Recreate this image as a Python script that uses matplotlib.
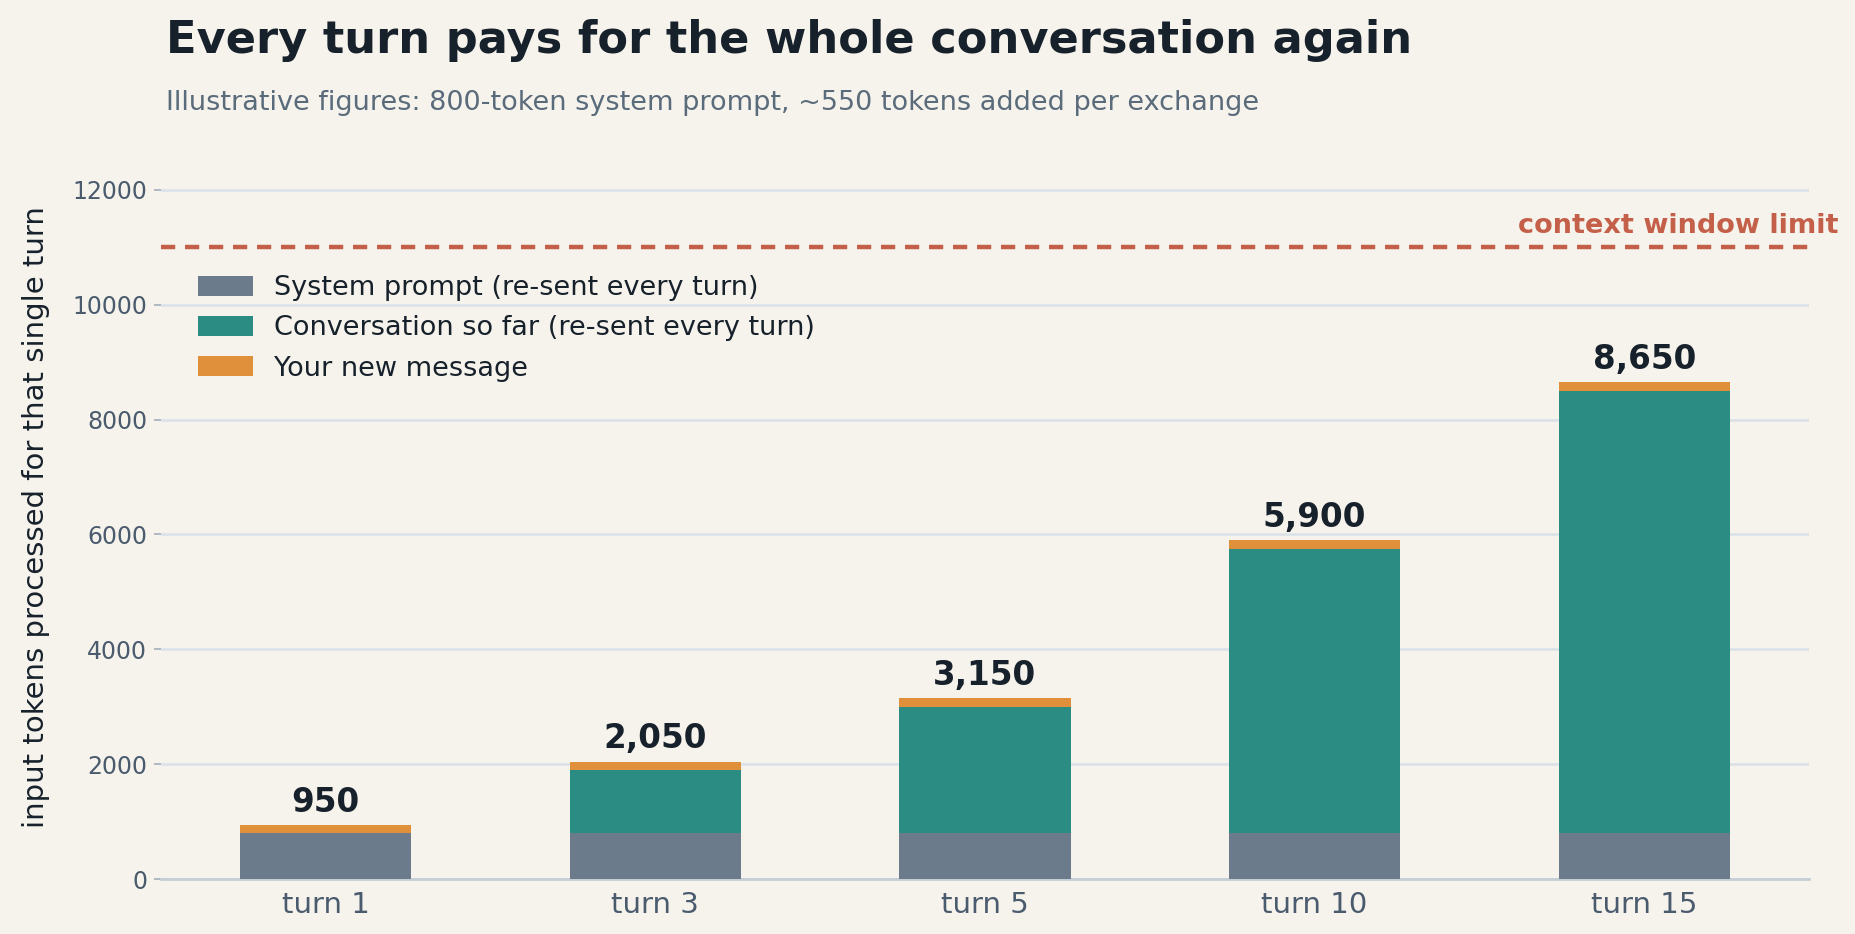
import matplotlib
matplotlib.use("Agg")
import matplotlib.pyplot as plt
import numpy as np

turns = ["turn 1", "turn 3", "turn 5", "turn 10", "turn 15"]
system_prompt = [800, 800, 800, 800, 800]
conversation = [0, 1100, 2200, 4950, 7700]
new_message = [150, 150, 150, 150, 150]
context_limit = 11000
yticks = [0, 2000, 4000, 6000, 8000, 10000, 12000]

BG = "#F6F3EC"
C_SYS = "#6B7B8C"
C_CONV = "#2A8C82"
C_NEW = "#E0903A"
C_LIMIT = "#C4604A"
C_DARK = "#17212B"
C_SUB = "#5A6B7B"
C_TICK = "#4A5B6E"
C_GRID = "#DCE3E8"

plt.rcParams["font.family"] = ["DejaVu Sans"]

fig = plt.figure(figsize=(18.56, 9.34), dpi=100, facecolor=BG)
ax = fig.add_axes([0.0867, 0.0584, 0.888, 0.7756], facecolor=BG)

x = np.arange(len(turns))
w = 0.52
sys_arr = np.array(system_prompt)
conv_arr = np.array(conversation)
new_arr = np.array(new_message)

ax.bar(x, sys_arr, w, color=C_SYS, label="System prompt (re-sent every turn)", zorder=3)
ax.bar(x, conv_arr, w, bottom=sys_arr, color=C_CONV, label="Conversation so far (re-sent every turn)", zorder=3)
ax.bar(x, new_arr, w, bottom=sys_arr + conv_arr, color=C_NEW, label="Your new message", zorder=3)

totals = sys_arr + conv_arr + new_arr
for xi, t in zip(x, totals):
    ax.text(xi, t + 110, f"{t:,}", ha="center", va="bottom", fontsize=23.5,
            fontweight="bold", color=C_DARK, zorder=4)

ax.axhline(context_limit, color=C_LIMIT, lw=3.2, ls=(0, (3.2, 2.2)), zorder=2)
ax.text(1.018, context_limit + 140, "context window limit", transform=ax.get_yaxis_transform(),
        ha="right", va="bottom", fontsize=19.5, fontweight="bold", color=C_LIMIT)

ax.set_xlim(-0.5, 4.5)
ax.set_ylim(0, 12600)
ax.set_xticks(x)
ax.set_xticklabels(turns, fontsize=21, color=C_TICK)
ax.set_yticks(yticks)
ax.set_yticklabels([str(v) for v in yticks], fontsize=17, color=C_TICK)
ax.tick_params(axis="x", length=0, pad=8)
ax.tick_params(axis="y", length=5, width=1.3, color="#A9B4BF", pad=5)
ax.yaxis.grid(True, color=C_GRID, lw=2, zorder=0)
ax.set_axisbelow(True)
for s in ["top", "right", "left"]:
    ax.spines[s].set_visible(False)
ax.spines["bottom"].set_color("#C5CDD5")
ax.spines["bottom"].set_linewidth(2)

ax.set_ylabel("input tokens processed for that single turn", fontsize=21, color=C_DARK, labelpad=16)

leg = ax.legend(loc="upper left", bbox_to_anchor=(0.008, 0.868), frameon=False, fontsize=19.5,
                handlelength=2.0, handleheight=0.75, labelspacing=0.53, labelcolor=C_DARK)

fig.text(0.0894, 0.943, "Every turn pays for the whole conversation again", fontsize=32.2,
         fontweight="bold", color=C_DARK, ha="left", va="baseline")
fig.text(0.0894, 0.882, "Illustrative figures: 800-token system prompt, ~550 tokens added per exchange",
         fontsize=19.5, color=C_SUB, ha="left", va="baseline")

fig.savefig("out.png", dpi=100, facecolor=BG)
